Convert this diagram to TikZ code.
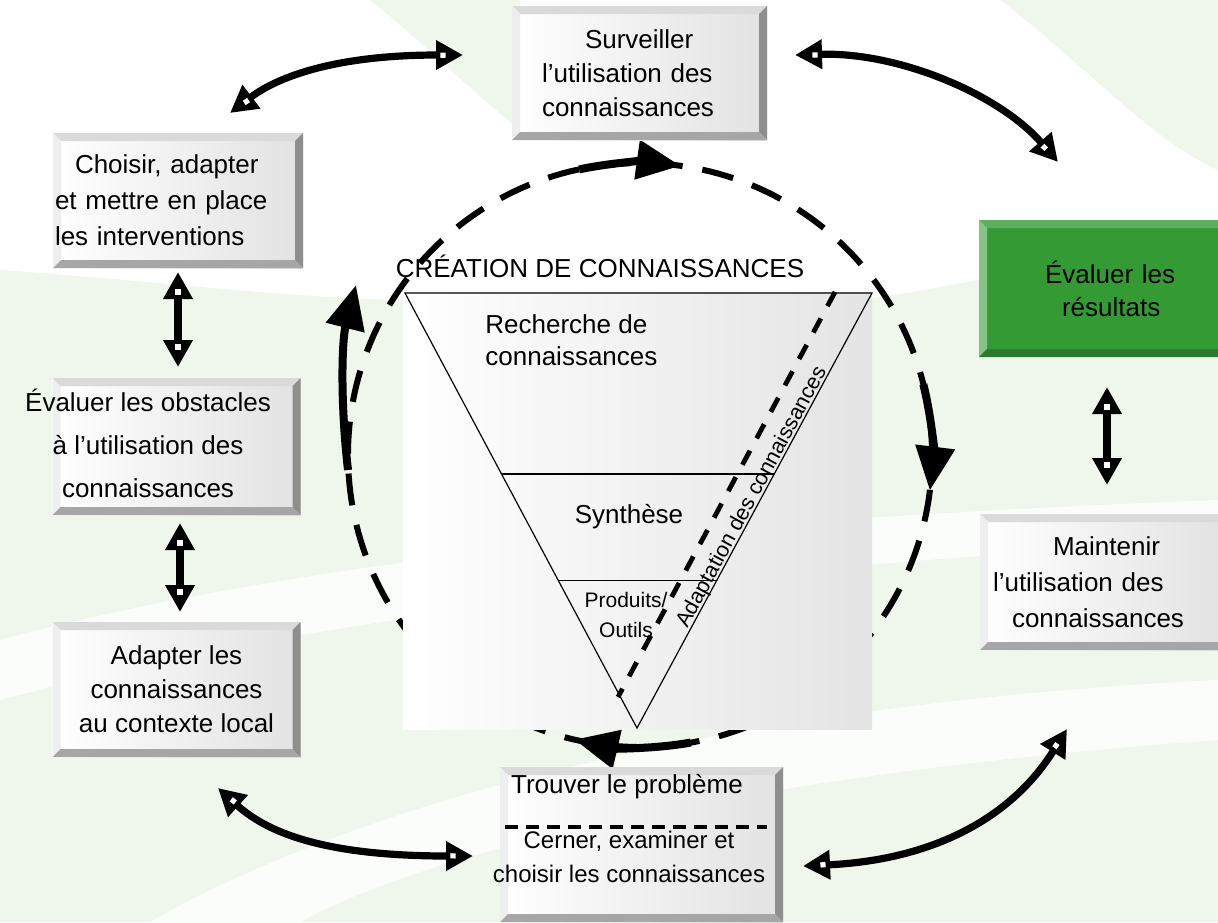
\documentclass[tikz,border=0pt]{standalone}
\usepackage{fontspec}
\setmainfont{Liberation Sans}
\usetikzlibrary{arrows.meta, calc, decorations.markings}
\definecolor{facegray}{HTML}{E2E2E2}
\definecolor{bvtop}{HTML}{DADADA}
\definecolor{bvleft}{HTML}{EEEEEE}
\definecolor{bvright}{HTML}{8E8E8E}
\definecolor{bvbot}{HTML}{A6A6A6}
\definecolor{leafgreen}{HTML}{349A34}
\definecolor{lgtop}{HTML}{5DAE5D}
\definecolor{lgleft}{HTML}{86C386}
\definecolor{lgbot}{HTML}{2C7A2C}
\definecolor{bgleaf}{HTML}{EFF7EC}
\definecolor{ctrgray}{HTML}{E4E4E4}

% bevelled edges of a panel: top, left, right, bottom colours
\newcommand{\bevelpic}[4]{%
  \fill[#1] (path picture bounding box.north west) -- (path picture bounding box.north east)
    -- ([shift={(-4pt,-4pt)}]path picture bounding box.north east)
    -- ([shift={(4pt,-4pt)}]path picture bounding box.north west) -- cycle;
  \fill[#2] (path picture bounding box.north west) -- (path picture bounding box.south west)
    -- ([shift={(4pt,4pt)}]path picture bounding box.south west)
    -- ([shift={(4pt,-4pt)}]path picture bounding box.north west) -- cycle;
  \fill[#3] (path picture bounding box.north east) -- (path picture bounding box.south east)
    -- ([shift={(-4pt,4pt)}]path picture bounding box.south east)
    -- ([shift={(-4pt,-4pt)}]path picture bounding box.north east) -- cycle;
  \fill[#4] (path picture bounding box.south west) -- (path picture bounding box.south east)
    -- ([shift={(-4pt,4pt)}]path picture bounding box.south east)
    -- ([shift={(4pt,4pt)}]path picture bounding box.south west) -- cycle;
}

\begin{document}
\begin{tikzpicture}[
  x=0.5pt, y=-0.5pt,
  panel/.style={rectangle, inner sep=0pt, align=center,
    font=\fontsize{13pt}{17pt}\selectfont, left color=white, right color=facegray,
    path picture={\bevelpic{bvtop}{bvleft}{bvright}{bvbot}}},
  greenpanel/.style={rectangle, inner sep=0pt, align=center, fill=leafgreen,
    font=\fontsize{13pt}{16.5pt}\selectfont,
    path picture={\bevelpic{lgtop}{lgleft}{lgbot}{lgbot}}},
  txt/.style={inner sep=0pt, font=\fontsize{13pt}{16pt}\selectfont},
  twoway/.style={line width=3.6pt,
    {Triangle[length=13.5pt,width=14pt]}-{Triangle[length=13.5pt,width=14pt]},
    postaction={decorate, decoration={markings,
      mark=at position 10pt with {\fill[white] (-1.3pt,-1.3pt) rectangle (1.3pt,1.3pt);},
      mark=at position -10pt with {\fill[white] (-1.3pt,-1.3pt) rectangle (1.3pt,1.3pt);}}}},
  flow/.style={line width=4pt, -{Triangle[length=22pt,width=19pt]}},
  ring/.style={line width=3pt, dash pattern=on 16pt off 10pt},
  cut/.style={line width=2.4pt, dash pattern=on 8pt off 7pt},
]
\useasboundingbox (0,0) rectangle (1218,922);
\begin{scope}
\clip (0,0) rectangle (1218,922);

% Background
\fill[white] (0,0) rectangle (1218,922);
\fill[bgleaf] (0,270) .. controls (150,280) and (300,300) .. (420,300) -- (860,300)
  .. controls (1000,280) and (1100,250) .. (1218,240) -- (1218,922) -- (0,922) -- cycle;
\fill[bgleaf] (1000,0) .. controls (1080,60) and (1150,140) .. (1218,170) -- (1218,0) -- cycle;
\fill[bgleaf] (370,0) .. controls (420,40) and (470,90) .. (520,130) -- (520,0) -- cycle;
\fill[white, opacity=0.8] (0,640) .. controls (300,560) and (700,520) .. (1218,500)
  -- (1218,540) .. controls (700,570) and (300,620) .. (0,700) -- cycle;
\fill[white, opacity=0.8] (150,922) .. controls (400,780) and (800,700) .. (1218,680)
  -- (1218,740) .. controls (800,770) and (450,840) .. (300,922) -- cycle;

% =============================================
% Knowledge creation funnel
% =============================================
\coordinate (hub) at (640,455);
\draw[ring] (hub) circle[radius=146pt];

\fill[left color=white, right color=ctrgray] (403,292) rectangle (872,729);

\coordinate (tl) at (405,293);
\coordinate (tr) at (872,293);
\coordinate (tb) at (637,728);
\draw[line width=0.6pt] (tl) -- (tr) -- (tb) -- cycle;
\draw[line width=0.6pt] ($(tl)!0.416!(tb)$) -- ($(tr)!0.416!(tb)$);
\draw[line width=0.6pt] ($(tl)!0.66!(tb)$) -- ($(tr)!0.66!(tb)$);
\draw[cut] (835,292) -- (618,697);

\node[txt, anchor=base] (create) at (600,277) {CRÉATION DE CONNAISSANCES};
\node[txt, anchor=west, align=left] (research) at (485,340) {Recherche de\\connaissances};
\node[txt, anchor=base] (synth) at (629,523) {Synthèse};
\node[txt, align=center, font=\fontsize{10.5pt}{15pt}\selectfont] (output) at (626,615) {Produits/\\Outils};
\node[txt, anchor=base, rotate=61.6, font=\fontsize{10.8pt}{13pt}\selectfont] (adapt) at (757,500)
  {Adaptation des connaissances};

% Cycle arrows
\draw[flow] ([shift={(102:146pt)}]hub) arc[start angle=102, end angle=82, radius=146pt];
\draw[flow] ([shift={(14:146pt)}]hub) arc[start angle=14, end angle=-7, radius=146pt];
\draw[flow] ([shift={(-80:146pt)}]hub) arc[start angle=-80, end angle=-103, radius=146pt];
\draw[flow] (348,470) .. controls (340,400) and (342,340) .. (356,285);

% =============================================
% Action cycle
% =============================================
\node[panel, text width=97.5pt, inner xsep=15pt, align=left, minimum height=67pt]
  (watch) at (639.5,73)
  {\hspace*{21.5pt}Surveiller\\l’utilisation des\\connaissances};
\node[panel, text width=123pt, inner xsep=1pt, align=left, minimum height=67.5pt,
  font=\fontsize{13pt}{18pt}\selectfont]
  (choose) at (178,200.5) {\hspace*{10pt}Choisir, adapter\\et mettre en place\\les interventions};
\node[panel, minimum width=124pt, minimum height=68.5pt] (obst) at (176.5,446.5) {};
\node[txt, align=center, font=\fontsize{13pt}{21.5pt}\selectfont] (obsttxt) at (148,443)
  {Évaluer les obstacles\\à l’utilisation des\\connaissances};
\node[panel, minimum width=124pt, minimum height=67.5pt] (local) at (176.5,689.5)
  {Adapter les\\connaissances\\au contexte local};
\node[panel, minimum width=141.5pt, minimum height=77.5pt] (find) at (641.5,844.5) {};
\node[txt, anchor=base] (findtop) at (627,793) {Trouver le problème};
\draw[line width=1.6pt, dash pattern=on 6.5pt off 4pt] (505,827) -- (767,827);
\node[txt, align=center, font=\fontsize{12pt}{17pt}\selectfont] (findbot) at (629,857)
  {Cerner, examiner et\\choisir les connaissances};
\node[greenpanel, text width=70pt, inner xsep=33pt, align=left, minimum height=68.5pt]
  (results) at (1115,288.5) {Évaluer les\\\hspace*{8.5pt}résultats};
\node[panel, text width=111pt, inner xsep=6.5pt, align=left, minimum height=68pt,
  font=\fontsize{13pt}{18pt}\selectfont]
  (sustain) at (1104,582) {\hspace*{30pt}Maintenir\\l’utilisation des\\\hspace*{9.5pt}connaissances};

% Links between steps
\coordinate (watchL) at (463,55);
\coordinate (chooseT) at (230,113);
\coordinate (watchR) at (795,55);
\coordinate (resultsT) at (1058,162);
\coordinate (chooseB) at (178,272);
\coordinate (obstT) at (178,367);
\coordinate (obstB) at (180,523);
\coordinate (localT) at (180,612);
\coordinate (resultsB) at (1107,387);
\coordinate (sustainT) at (1107,485);
\coordinate (localB) at (218,788);
\coordinate (findL) at (473,856);
\coordinate (findR) at (803,866);
\coordinate (sustainB) at (1067,729);

\draw[twoway] (watchL) .. controls (340,55) and (280,75) .. (chooseT);
\draw[twoway] (watchR) .. controls (900,52) and (1000,95) .. (resultsT);
\draw[twoway] (chooseB) -- (obstT);
\draw[twoway] (obstB) -- (localT);
\draw[twoway] (resultsB) -- (sustainT);
\draw[twoway] (localB) .. controls (270,835) and (330,856) .. (findL);
\draw[twoway] (findR) .. controls (930,860) and (1010,820) .. (sustainB);

\end{scope}
\end{tikzpicture}
\end{document}
